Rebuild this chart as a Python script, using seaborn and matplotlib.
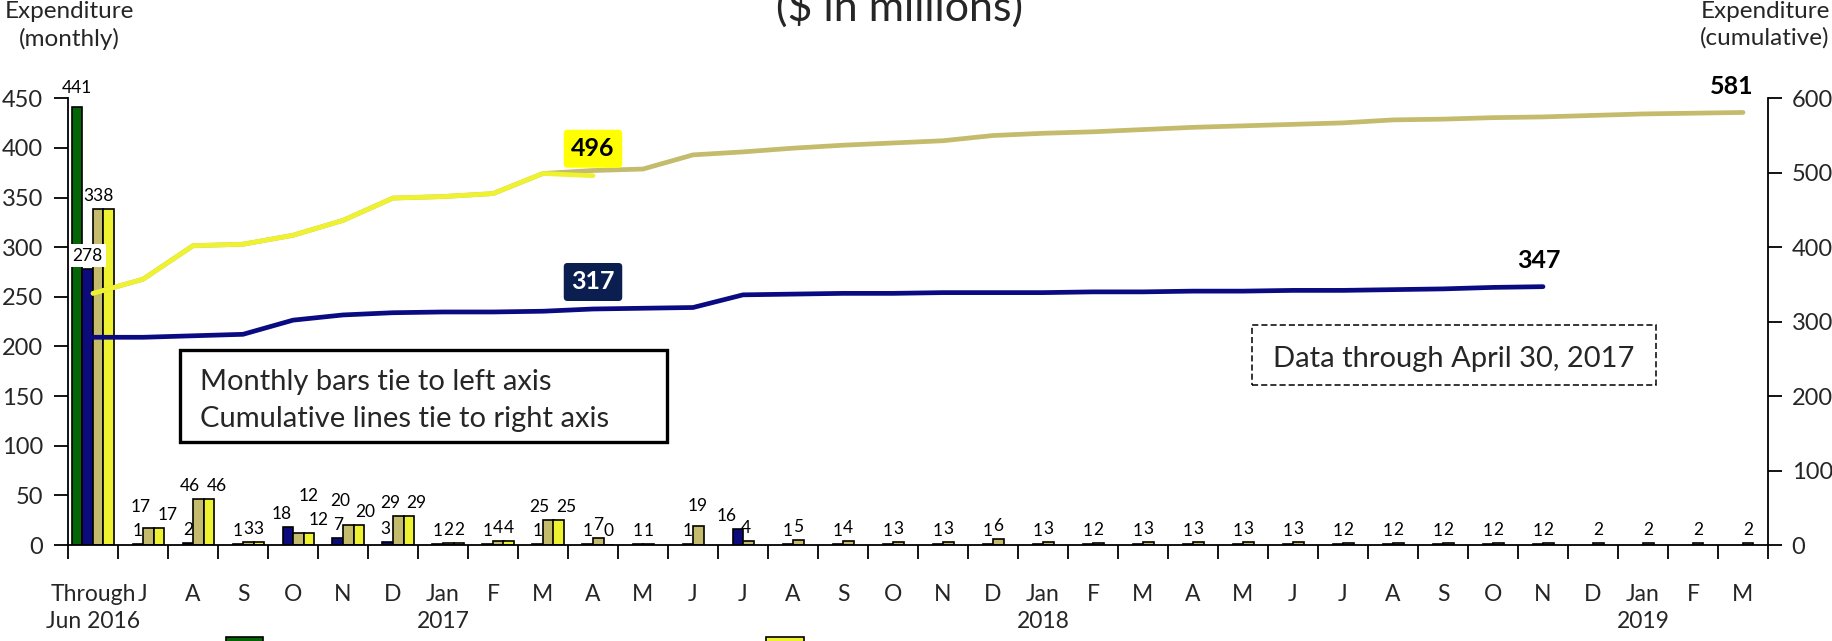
import matplotlib
matplotlib.use('Agg')
import numpy as np
import pandas as pd
import matplotlib.pyplot as plt
from matplotlib.patches import Rectangle
import seaborn as sns

# Categories (one per month, first one is everything through June 2016)
periods = ['2016-06', '2016-07', '2016-08', '2016-09', '2016-10', '2016-11', '2016-12',
           '2017-01', '2017-02', '2017-03', '2017-04', '2017-05', '2017-06', '2017-07',
           '2017-08', '2017-09', '2017-10', '2017-11', '2017-12', '2018-01', '2018-02',
           '2018-03', '2018-04', '2018-05', '2018-06', '2018-07', '2018-08', '2018-09',
           '2018-10', '2018-11', '2018-12', '2019-01', '2019-02', '2019-03']
tick_labels = ['Through\nJun 2016', 'J', 'A', 'S', 'O', 'N', 'D', 'Jan\n2017', 'F', 'M', 'A',
               'M', 'J', 'J', 'A', 'S', 'O', 'N', 'D', 'Jan\n2018', 'F', 'M', 'A', 'M', 'J',
               'J', 'A', 'S', 'O', 'N', 'D', 'Jan\n2019', 'F', 'M']

# Monthly bars (left axis, $M)
monthly_green = [441]
monthly_blue = [278, 1, 2, 1, 18, 7, 3, 1, 1, 1, 1, 1, 1, 16, 1, 1, 1, 1, 1, 1, 1, 1, 1, 1,
                1, 1, 1, 1, 1, 1]
monthly_khaki = [338, 17, 46, 3, 12, 20, 29, 2, 4, 25, 7, 1, 19, 4, 5, 4, 3, 3, 6, 3, 2, 3,
                 3, 3, 3, 2, 2, 2, 2, 2, 2, 2, 2, 2]
monthly_yellow = [338, 17, 46, 3, 12, 20, 29, 2, 4, 25, 0]

# Cumulative lines (right axis, $M)
cum_khaki = [338, 357, 402, 404, 416, 436, 466, 468, 472, 499, 503, 505, 524, 528, 533, 537,
             540, 543, 550, 553, 555, 558, 561, 563, 565, 567, 571, 572, 574, 575, 577, 579,
             580, 581]
cum_blue = [279, 279, 281, 283, 302, 309, 312, 313, 313, 314, 317, 318, 319, 336, 337, 338,
            338, 339, 339, 339, 340, 340, 341, 341, 342, 342, 343, 344, 346, 347]
cum_yellow = [338, 357, 402, 404, 416, 436, 466, 468, 472, 499, 496]

data_through = '2017-04'

colors = {'green': '#056405', 'blue': '#0b0b7c', 'khaki': '#c4bb6c', 'yellow': '#eef230'}
line_colors = {'khaki': '#c4bb6c', 'blue': '#0a0a82', 'yellow': '#eef230'}
series = ['green', 'blue', 'khaki', 'yellow']

W, H = 1833, 641

sns.set_style('ticks')
plt.rcParams['font.family'] = ['Lato', 'DejaVu Sans']

bar_rows = []
for name, vals in zip(series, [monthly_green, monthly_blue, monthly_khaki, monthly_yellow]):
    for i, v in enumerate(vals):
        bar_rows.append({'period': periods[i], 'series': name, 'value': v})
bars = pd.DataFrame(bar_rows)

line_rows = []
for name, vals in zip(['khaki', 'blue', 'yellow'], [cum_khaki, cum_blue, cum_yellow]):
    for i, v in enumerate(vals):
        line_rows.append({'pos': i, 'series': name, 'value': v})
lines = pd.DataFrame(line_rows)

fig = plt.figure(figsize=(W / 100, H / 100), dpi=100)
ax = fig.add_axes([68 / W, 1 - 545 / H, 1700 / W, (545 - 98.3) / H])

sns.barplot(data=bars, x='period', y='value', hue='series', order=periods, hue_order=series,
            palette=colors, saturation=1, width=0.84, edgecolor='black', linewidth=1.2,
            errorbar=None, legend=False, ax=ax)

ax2 = ax.twinx()
sns.lineplot(data=lines, x='pos', y='value', hue='series', hue_order=['khaki', 'blue', 'yellow'],
             palette=line_colors, linewidth=3.4, sort=False, errorbar=None, legend=False,
             solid_capstyle='round', ax=ax2)

ax.set_xlim(-0.5, len(periods) - 0.5)
ax.set_ylim(0, 450)
ax2.set_ylim(0, 600)
ax.set_yticks(range(0, 451, 50))
ax2.set_yticks(range(0, 601, 100))
ax.set_xticks(range(len(periods)))
ax.set_xticklabels(tick_labels, linespacing=1.35)
ax.set_xticks(np.arange(-0.5, len(periods), 1), minor=True)
ax.set_xlabel('')
ax.set_ylabel('')
ax2.set_xlabel('')
ax2.set_ylabel('')

ax.tick_params(axis='x', which='major', length=0, pad=28, labelsize=16.5)
ax.tick_params(axis='x', which='minor', length=10, width=1.3, color='black', bottom=True)
ax.tick_params(axis='y', length=10, width=1.3, color='black', pad=8, labelsize=17)
ax2.tick_params(axis='y', length=10, width=1.3, color='black', pad=7, labelsize=17)

for s in ['top', 'right']:
    ax.spines[s].set_visible(False)
for s in ['top', 'left', 'bottom']:
    ax2.spines[s].set_visible(False)
for a, s in [(ax, 'left'), (ax, 'bottom'), (ax2, 'right')]:
    a.spines[s].set_color('black')
    a.spines[s].set_linewidth(1.3)

# bar value labels (nudges in pixels: right, up)
label_nudge = {
    (0, 'green'): (0, 5.5),
    (1, 'khaki'): (-7.5, 7.5), (1, 'yellow'): (9, 0),
    (2, 'khaki'): (-8, 0), (2, 'yellow'): (8, 0),
    (4, 'blue'): (-6, 0), (4, 'khaki'): (10, 23.5), (4, 'yellow'): (9.5, 0),
    (5, 'khaki'): (-8, 10.5), (5, 'yellow'): (6.5, 0),
    (6, 'blue'): (-2.5, 0), (6, 'khaki'): (-8, 0), (6, 'yellow'): (8, 0),
    (9, 'khaki'): (-9, 0), (9, 'yellow'): (8, 0),
    (12, 'khaki'): (-1, 6.5),
    (13, 'blue'): (-11, 0), (13, 'khaki'): (-2, 0),
}
hidden = {(0, 'yellow')}
for name, container in zip(series, ax.containers):
    for bar in container:
        h = bar.get_height()
        xc = bar.get_x() + bar.get_width() / 2
        i = int(round(xc))
        if (i, name) in hidden:
            continue
        dx, dy = label_nudge.get((i, name), (0, 0))
        kw = {}
        if (i, name) == (0, 'blue'):
            kw['bbox'] = dict(boxstyle='square,pad=0.2', fc='white', ec='none')
        ax.annotate(f'{h:.0f}', xy=(xc, h), xytext=(dx, 8.5 + dy), textcoords='offset pixels',
                    ha='center', va='baseline', fontsize=12.5, color='black', **kw)

# cumulative callouts
k = periods.index(data_through)
ax2.annotate(f'{cum_yellow[k]}', xy=(k, cum_yellow[k]), xytext=(0, 27), textcoords='offset pixels',
             ha='center', va='center', fontsize=18, fontweight='bold', color='black',
             bbox=dict(boxstyle='round,pad=0.3,rounding_size=0.15', fc='#ffff00', ec='none'))
ax2.annotate(f'{cum_blue[k]}', xy=(k, cum_blue[k]), xytext=(0, 27), textcoords='offset pixels',
             ha='center', va='center', fontsize=18, fontweight='bold', color='white',
             bbox=dict(boxstyle='round,pad=0.3,rounding_size=0.15', fc='#0a1e50', ec='none'))
ax2.annotate(f'{cum_khaki[-1]}', xy=(len(cum_khaki) - 1, cum_khaki[-1]), xytext=(-11, 26),
             textcoords='offset pixels', ha='center', va='center', fontsize=18,
             fontweight='bold', color='black')
ax2.annotate(f'{cum_blue[-1]}', xy=(len(cum_blue) - 1, cum_blue[-1]), xytext=(-4, 26),
             textcoords='offset pixels', ha='center', va='center', fontsize=18,
             fontweight='bold', color='black')


def fx(x):
    return x / W


def fy(y):
    return 1 - y / H


# titles
fig.text(fx(900), fy(21), '($ in millions)', ha='center', va='baseline', fontsize=31)
fig.text(fx(69), fy(1), 'Expenditure\n(monthly)', ha='center', va='top', fontsize=17.5,
         linespacing=1.3)
fig.text(fx(1765), fy(1), 'Expenditure\n(cumulative)', ha='center', va='top', fontsize=17.5,
         linespacing=1.3)

# note boxes
fig.add_artist(Rectangle((fx(180), fy(442)), fx(667) - fx(180), fy(350) - fy(442),
                         transform=fig.transFigure, fc='white', ec='black', lw=2.4, zorder=5))
fig.text(fx(200), fy(390), 'Monthly bars tie to left axis', ha='left', va='baseline',
         fontsize=21, zorder=6)
fig.text(fx(200), fy(427), 'Cumulative lines tie to right axis', ha='left', va='baseline',
         fontsize=21, zorder=6)

fig.add_artist(Rectangle((fx(1252.5), fy(385)), fx(1656) - fx(1252.5), fy(325) - fy(385),
                         transform=fig.transFigure, fc='white', ec='black', lw=1.1,
                         linestyle=(0, (4, 2)), zorder=5))
fig.text(fx(1454), fy(367), 'Data through April 30, 2017', ha='center', va='baseline',
         fontsize=21, zorder=6)

# legend swatches peeking in at the bottom edge
for x0, x1, c in [(226, 263, colors['green']), (766, 804, colors['yellow'])]:
    fig.add_artist(Rectangle((fx(x0), fy(652)), fx(x1) - fx(x0), fy(637) - fy(652),
                             transform=fig.transFigure, fc=c, ec='black', lw=1.2))

fig.savefig('out.png', dpi=100)
